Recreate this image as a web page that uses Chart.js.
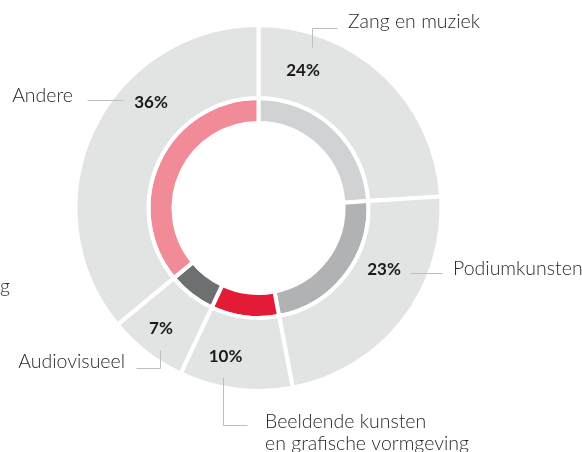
<!DOCTYPE html>
<html>
<head>
<meta charset="utf-8">
<script src="https://cdn.jsdelivr.net/npm/chart.js@4"></script>
<style>
  html, body { margin: 0; padding: 0; background: #ffffff; }
  #wrap { width: 582px; height: 452px; position: relative; }
</style>
</head>
<body>
<div id="wrap"><canvas id="c" width="582" height="452"></canvas></div>
<script>
// ---- data ----
const categories = ['Zang en muziek', 'Podiumkunsten', 'Beeldende kunsten\nen grafische vormgeving', 'Audiovisueel', 'Andere'];
const shares = [24, 23, 10, 7, 36];
const shareLabels = ['24%', '23%', '10%', '7%', '36%'];
const innerColors = ['#d1d2d4', '#b1b2b4', '#e31b37', '#6e6f71', '#f18b98'];
const outerColor = '#e2e3e3';

// ---- label layout (offsets from chart centre) ----
const labelLayout = [
  { pct: [44.5, -137], line: [[53.5, -161], [53.5, -180], [78.5, -180]], text: [89.5, -180], align: 'left' },
  { pct: [125.5, 62], line: [[151.5, 65], [183.5, 65]], text: [194.5, 67], align: 'left' },
  { pct: [-33, 149], line: [[-35.5, 169], [-35.5, 217], [-11.5, 217]], text: [6.5, 220], align: 'left' },
  { pct: [-97.5, 121], line: [[-98.5, 142], [-98.5, 160], [-122.5, 160]], text: [-133.5, 160], align: 'right' },
  { pct: [-107.5, -105], line: [[-171.5, -108], [-135.5, -108]], text: [-185.5, -106], align: 'right' }
];

const labelPlugin = {
  id: 'labels',
  afterDraw(chart) {
    const arc = chart.getDatasetMeta(0).data[0];
    if (!arc) return;
    const cx = arc.x, cy = arc.y;
    const ctx = chart.ctx;
    ctx.save();
    labelLayout.forEach((L, i) => {
      // leader line
      ctx.strokeStyle = '#bdbebf';
      ctx.lineWidth = 1;
      ctx.beginPath();
      L.line.forEach((p, j) => {
        const x = Math.round(cx + p[0]) + 0.5, y = Math.round(cy + p[1]) + 0.5;
        if (j === 0) ctx.moveTo(x, y); else ctx.lineTo(x, y);
      });
      ctx.stroke();
      // percentage
      ctx.fillStyle = '#1a1a1a';
      ctx.font = 'bold 17px Lato';
      ctx.textAlign = 'center';
      ctx.textBaseline = 'middle';
      ctx.fillText(shareLabels[i], cx + L.pct[0], cy + L.pct[1]);
      // category name
      ctx.fillStyle = '#2a2a2a';
      ctx.font = '300 19.5px Lato';
      ctx.textAlign = L.align;
      ctx.textBaseline = 'alphabetic';
      categories[i].split('\n').forEach((ln, k) => {
        ctx.fillText(ln, cx + L.text[0], cy + L.text[1] + k * 21.5);
      });
    });
    // cut-off text at left edge
    ctx.fillStyle = '#2a2a2a';
    ctx.font = '300 19.5px Lato';
    ctx.textAlign = 'right';
    ctx.fillText('Financiering', cx - 248.5, cy + 85);
    ctx.restore();
  }
};

new Chart(document.getElementById('c'), {
  type: 'doughnut',
  data: {
    labels: categories,
    datasets: [
      { data: shares, backgroundColor: outerColor, borderColor: '#ffffff', borderWidth: 4, weight: 73, hoverOffset: 0 },
      { data: shares, backgroundColor: innerColors, borderColor: '#ffffff', borderWidth: 4, weight: 25, hoverOffset: 0 }
    ]
  },
  options: {
    responsive: false,
    animation: false,
    radius: 183,
    cutout: '46.45%',
    layout: { padding: { left: 0, right: 65, top: 0, bottom: 36 } },
    plugins: { legend: { display: false }, tooltip: { enabled: false } },
    events: []
  },
  plugins: [labelPlugin]
});
</script>
</body>
</html>
